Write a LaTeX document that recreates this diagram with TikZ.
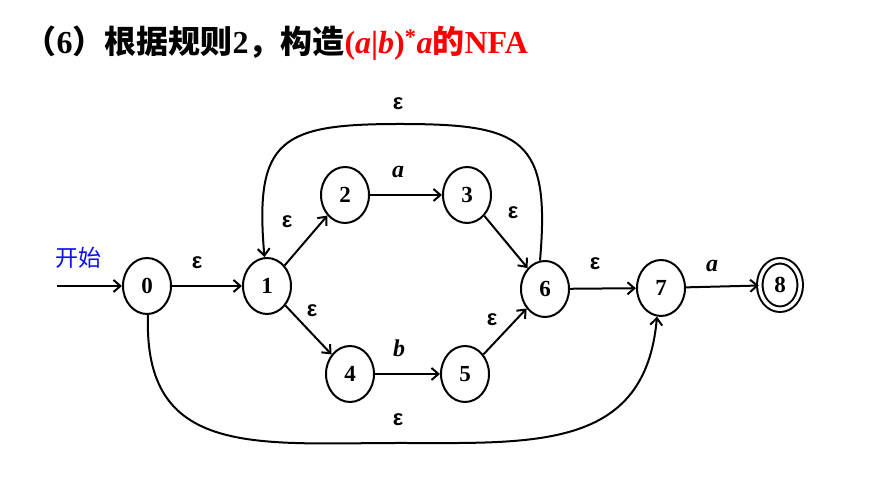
\documentclass[tikz,border=0pt]{standalone}
\usepackage{xcolor}
\usepackage{fontspec}
\usepackage{tikz}
\usetikzlibrary{shapes,arrows,arrows.meta}
\setmainfont{Liberation Serif}
\newfontfamily\cjkfont{Noto Sans CJK SC}
\newfontfamily\epsfont{Liberation Sans}
\definecolor{startblue}{rgb}{0.05, 0.05, 0.95}
\tikzstyle{state}=[ellipse,draw,line width=2pt,inner sep=0pt,minimum width=48pt,minimum height=56pt,font=\fontsize{23}{23}\selectfont\bfseries]
\tikzstyle{accept}=[state,double,double distance=3.5pt,minimum width=40.5pt,minimum height=48.5pt]
\tikzstyle{eps}=[font=\fontsize{22}{22}\selectfont\epsfont\bfseries]
\tikzstyle{sym}=[font=\fontsize{24}{24}\selectfont\bfseries\itshape]
\tikzstyle{trans}=[-{Straight Barb[length=7pt,width=12pt]},line width=2pt]

\begin{document}
\begin{tikzpicture}[x=1pt,y=1pt]
\useasboundingbox (0,0) rectangle (871,489);

\node[anchor=west,font=\fontsize{32}{32}\selectfont\bfseries] (title) at (21,446)
  {{\cjkfont （}6{\cjkfont ）根据规则}2{\cjkfont ，构造}\textcolor{red}{(\textit{a}|\textit{b})\textsuperscript{*}\textit{a}{\cjkfont 的}NFA}};
\node[font=\fontsize{23}{23}\selectfont\cjkfont,text=startblue] (kaishi) at (78,231) {开始};

\node[state] (0) at (147,203) {0};
\node[state] (1) at (267,203) {1};
\node[state] (2) at (345,294) {2};
\node[state] (3) at (467,294) {3};
\node[state] (4) at (350,115) {4};
\node[state] (5) at (465,115) {5};
\node[state] (6) at (545,200) {6};
\node[state] (7) at (661,201) {7};
\node[accept] (8) at (780,204) {8};

\coordinate (start) at (57,203);
\coordinate (top) at (400,365);
\coordinate (bot) at (400,46);

\draw[trans] (start) -- (0);
\draw[trans] (0) -- (1);
\draw[trans] (1) -- (2);
\draw[trans] (2) -- (3);
\draw[trans] (3) -- (6);
\draw[trans] (1) -- (4);
\draw[trans] (4) -- (5);
\draw[trans] (5) -- (6);
\draw[trans] (6) -- (7);
\draw[trans] (7) -- (8);
\draw[trans] (6.100) to[out=85,in=0,looseness=1.6] (top) to[out=180,in=95,looseness=1.6] (1.95);
\draw[trans] (0.272) to[out=268,in=180,looseness=1.3] (bot) to[out=0,in=265,looseness=1.2] (7.262);

\node[eps] (e01) at (197,226) {ε};
\node[eps] (e12) at (287,267) {ε};
\node[sym] (a23) at (398,317) {a};
\node[eps] (e36) at (513,276) {ε};
\node[eps] (e14) at (312,178) {ε};
\node[sym] (b45) at (399,141) {b};
\node[eps] (e56) at (492,169) {ε};
\node[eps] (e67) at (595,225) {ε};
\node[sym] (a78) at (712,223) {a};
\node[eps] (etop) at (398,385) {ε};
\node[eps] (ebot) at (398,69) {ε};
\end{tikzpicture}
\end{document}
